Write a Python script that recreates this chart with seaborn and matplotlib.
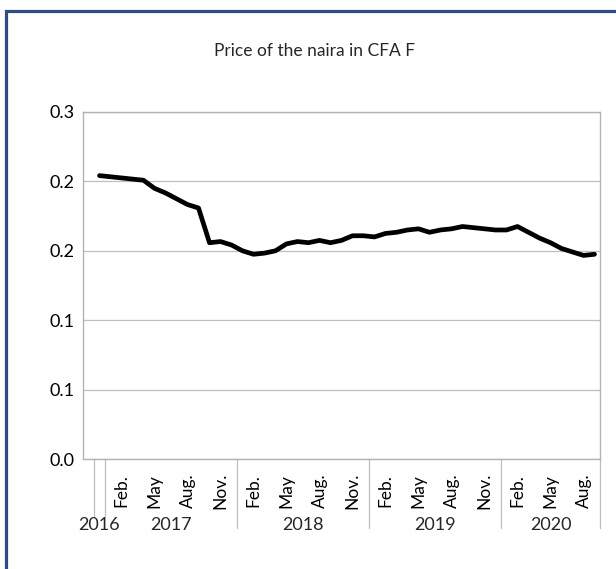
import numpy as np
import pandas as pd
import matplotlib
matplotlib.use("Agg")
import matplotlib.pyplot as plt
import matplotlib.transforms as mtransforms
from matplotlib.patches import Rectangle
import seaborn as sns

# categories: one empty slot, then Dec 2016 .. Sep 2020
months = [""] + ["Dec."] + ["Jan.", "Feb.", "Mar.", "Apr.", "May", "Jun.",
                            "Jul.", "Aug.", "Sep.", "Oct.", "Nov.", "Dec."] * 3 + \
         ["Jan.", "Feb.", "Mar.", "Apr.", "May", "Jun.", "Jul.", "Aug.", "Sep."]
years = ["2016", "2017", "2018", "2019", "2020"]
year_sizes = [1, 12, 12, 12, 9]

# price of the naira in CFA F (Dec 2016 .. Sep 2020)
price = [0.245, 0.244, 0.243, 0.242, 0.241, 0.234, 0.230, 0.225, 0.220, 0.217,
         0.187, 0.188, 0.185,
         0.180, 0.177, 0.178, 0.180, 0.186, 0.188, 0.187, 0.189, 0.187, 0.189,
         0.193, 0.193,
         0.192, 0.195, 0.196, 0.198, 0.199, 0.196, 0.198, 0.199, 0.201, 0.200,
         0.199, 0.198,
         0.198, 0.201, 0.196, 0.191, 0.187, 0.182, 0.179, 0.176, 0.177]

n_cat = len(months)
df = pd.DataFrame({"pos": np.arange(1, n_cat) + 0.5, "price": price})

sns.set_style("white")
plt.rcParams["font.family"] = ["Lato", "DejaVu Sans"]

fig = plt.figure(figsize=(6.16, 5.69), dpi=100)
ax = fig.add_axes([83 / 616, 110 / 569, 517 / 616, 347 / 569])

sns.lineplot(data=df, x="pos", y="price", ax=ax, color="black", linewidth=3.4)

ax.set_xlim(0, n_cat)
ax.set_ylim(0, 0.3)
ax.set_yticks(np.linspace(0, 0.3, 6))
ax.yaxis.set_major_formatter(matplotlib.ticker.FormatStrFormatter("%.1f"))
ax.grid(axis="y", color="#BFBFBF", linewidth=0.9)
ax.set_axisbelow(True)
for s in ax.spines.values():
    s.set_color("#B3B3B3")
    s.set_linewidth(1.0)
ax.set_xlabel("")
ax.set_ylabel("")

# month labels every third category
idx = [i for i in range(n_cat) if i % 3 == 0 and months[i]]
ax.set_xticks([i + 0.5 for i in idx])
ax.set_xticklabels([months[i] for i in idx], rotation=90)
ax.tick_params(axis="x", length=0, pad=23, labelsize=12.5, colors="black")
ax.tick_params(axis="y", length=0, pad=6, labelsize=13, colors="black")
for lbl in ax.get_xticklabels():
    lbl.set_va("center")

# year group labels and separators
trans = mtransforms.blended_transform_factory(ax.transData, ax.transAxes)
start = 1
bounds = [1]
for y, n in zip(years, year_sizes):
    ax.text(start + n / 2, -0.19, y, transform=trans, ha="center", va="center",
            fontsize=13)
    start += n
    bounds.append(start)
for b in bounds:
    low = -0.165 if b <= 2 else -0.2
    ax.plot([b, b], [0, low], transform=trans, color="#BFBFBF", lw=0.9,
            clip_on=False)

fig.text(315 / 616, 1 - 51 / 569, "Price of the naira in CFA F",
         ha="center", va="center", fontsize=12.5)

fig.add_artist(Rectangle((6 / 616, -0.1), 1.2, 0.1 + (569 - 11.5) / 569,
                         transform=fig.transFigure, fill=False,
                         edgecolor="#2E4B84", linewidth=2.3))

fig.savefig("out.png", dpi=100)
